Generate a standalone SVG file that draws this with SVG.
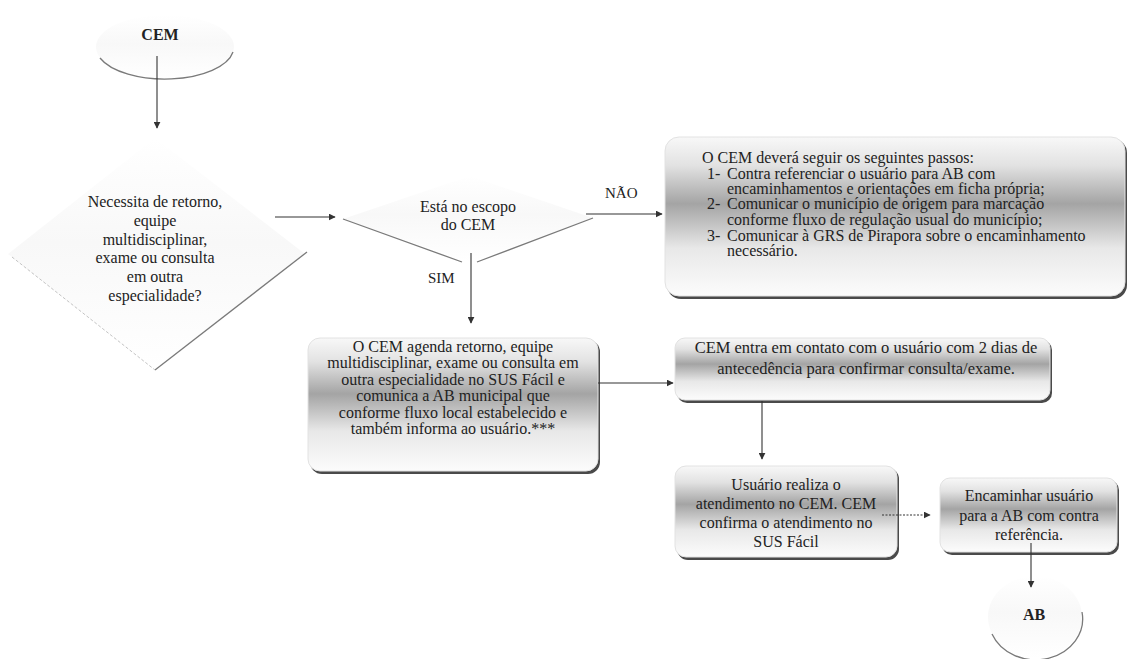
<svg xmlns="http://www.w3.org/2000/svg" width="1129" height="659" viewBox="0 0 1129 659" font-family="'Liberation Serif', 'DejaVu Serif', serif">
<style>
text{font-family:'Liberation Serif','DejaVu Serif',serif;font-size:16px;fill:#222}
.c{text-anchor:middle}
.b{font-weight:bold}
.box{fill:url(#g);stroke:#e2e2e2;stroke-width:1}
.sh{fill:#4a4a4a}
.edge{fill:none;stroke:#333;stroke-width:1.1}
.soft{fill:none;stroke:#7a7a7a;stroke-width:1.3}
.faint{fill:none;stroke:#c4c4c4;stroke-width:1;stroke-dasharray:3 2}
</style>
<defs>
<linearGradient id="g" x1="0" y1="0" x2="0" y2="1">
<stop offset="0" stop-color="#f8f8f8"/>
<stop offset="0.18" stop-color="#e2e2e2"/>
<stop offset="0.42" stop-color="#a4a4a4"/>
<stop offset="0.7" stop-color="#e8e8e8"/>
<stop offset="1" stop-color="#fcfcfc"/>
</linearGradient>
<linearGradient id="gd" x1="0" y1="0" x2="0" y2="1">
<stop offset="0" stop-color="#ffffff"/>
<stop offset="0.45" stop-color="#f8f8f8"/>
<stop offset="1" stop-color="#ffffff"/>
</linearGradient>
<marker id="ah" viewBox="0 0 10 10" refX="9" refY="5" markerWidth="7" markerHeight="7" orient="auto" markerUnits="userSpaceOnUse">
<path d="M0,0 L10,5 L0,10 z" fill="#333"/>
</marker>
</defs>

<g id="start">
<ellipse cx="165" cy="47" rx="69" ry="32" fill="url(#gd)"/>
<path class="soft" d="M100,58 A69 32 0 0 0 233,52"/>
<text class="c b" x="160" y="40">CEM</text>
</g>

<g id="decision1">
<polygon points="155,138 305,254 155,370 8,254" fill="url(#gd)"/>
<path class="soft" d="M307,252 L155,370"/>
<path class="faint" d="M12,257 L155,370"/>
<text class="c" x="155" y="207">Necessita de retorno,</text>
<text class="c" x="155" y="226">equipe</text>
<text class="c" x="155" y="245">multidisciplinar,</text>
<text class="c" x="155" y="263">exame ou consulta</text>
<text class="c" x="155" y="282">em outra</text>
<text class="c" x="155" y="301">especialidade?</text>
</g>

<g id="decision2">
<polygon points="470,176 593,218 470,262 343,219" fill="url(#gd)"/>
<path class="soft" d="M343,219 L462,262 M477,262 L593,218"/>
<text class="c" x="468" y="212">Está no escopo</text>
<text class="c" x="468" y="230">do CEM</text>
</g>

<g id="steps">
<rect class="sh" x="667" y="139" width="460" height="160" rx="14"/>
<rect class="box" x="665" y="137" width="460" height="159" rx="14"/>
<text x="702" y="163">O CEM deverá seguir os seguintes passos:</text>
<text x="707" y="179">1-</text>
<text x="727" y="179">Contra referenciar o usuário para AB com</text>
<text x="727" y="194">encaminhamentos e orientações em ficha própria;</text>
<text x="707" y="209">2-</text>
<text x="727" y="209">Comunicar o município de origem para marcação</text>
<text x="727" y="225">conforme fluxo de regulação usual do município;</text>
<text x="707" y="241">3-</text>
<text x="727" y="241">Comunicar à GRS de Pirapora sobre o encaminhamento</text>
<text x="727" y="256">necessário.</text>
</g>

<g id="agenda">
<rect class="sh" x="310" y="340" width="290" height="134" rx="12"/>
<rect class="box" x="308" y="338" width="290" height="133" rx="12"/>
<text class="c" x="453" y="352">O CEM agenda retorno, equipe</text>
<text class="c" x="453" y="368">multidisciplinar,  exame ou consulta em</text>
<text class="c" x="453" y="385">outra especialidade no SUS Fácil e</text>
<text class="c" x="453" y="401">comunica a AB municipal que</text>
<text class="c" x="453" y="418">conforme fluxo local estabelecido e</text>
<text class="c" x="453" y="434">também informa ao usuário.***</text>
</g>

<g id="contato">
<rect class="sh" x="677" y="340" width="375" height="63" rx="10"/>
<rect class="box" x="675" y="338" width="375" height="62" rx="10"/>
<text class="c" x="866" y="353" style="font-size:16.5px">CEM entra em contato com o usuário com 2 dias de</text>
<text class="c" x="866" y="374" style="font-size:16.5px">antecedência  para confirmar consulta/exame.</text>
</g>

<g id="atendimento">
<rect class="sh" x="677" y="468" width="222" height="92" rx="11"/>
<rect class="box" x="675" y="466" width="222" height="91" rx="11"/>
<text class="c" x="786" y="490">Usuário realiza o</text>
<text class="c" x="786" y="509">atendimento no CEM. CEM</text>
<text class="c" x="786" y="528">confirma o atendimento no</text>
<text class="c" x="786" y="547">SUS Fácil</text>
</g>

<g id="encaminhar">
<rect class="sh" x="942" y="480" width="177" height="75" rx="10"/>
<rect class="box" x="940" y="478" width="177" height="74" rx="10"/>
<text class="c" x="1029" y="501">Encaminhar usuário</text>
<text class="c" x="1029" y="521">para a AB com contra</text>
<text class="c" x="1029" y="540">referência.</text>
</g>

<g id="end">
<ellipse cx="1035" cy="617" rx="47" ry="41" fill="url(#gd)"/>
<path class="soft" d="M992,634 A47 41 0 0 0 1082,612"/>
<text class="c b" x="1034" y="620">AB</text>
</g>

<g id="connectors">
<line class="edge" x1="157" y1="56" x2="157" y2="128" marker-end="url(#ah)"/>
<line class="edge" x1="275" y1="217" x2="335" y2="217" marker-end="url(#ah)"/>
<line class="edge" x1="586" y1="214" x2="662" y2="214" marker-end="url(#ah)"/>
<line class="edge" x1="471" y1="253" x2="471" y2="323" marker-end="url(#ah)"/>
<line class="edge" x1="598" y1="383" x2="673" y2="383" marker-end="url(#ah)"/>
<line class="edge" x1="762" y1="401" x2="762" y2="459" marker-end="url(#ah)"/>
<line class="edge" x1="882" y1="515" x2="930" y2="515" stroke-dasharray="2 1.5" marker-end="url(#ah)"/>
<line class="edge" x1="1031" y1="543" x2="1031" y2="587" marker-end="url(#ah)"/>
<text x="605" y="198" style="font-size:15px">NÃO</text>
<text x="428" y="283" style="font-size:15px">SIM</text>
</g>
</svg>
